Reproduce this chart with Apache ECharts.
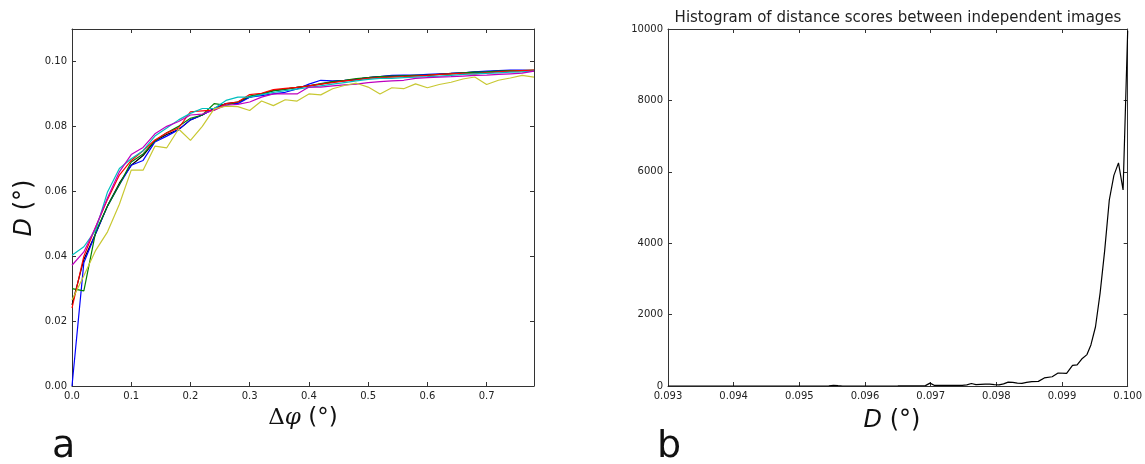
<!DOCTYPE html>
<html>
<head>
<meta charset="utf-8">
<script src="https://cdn.jsdelivr.net/npm/echarts@6/dist/echarts.min.js"></script>
<style>
  html, body { margin: 0; padding: 0; background: #fff; }
  #main { width: 1145px; height: 464px; }
</style>
</head>
<body>
<div id="main"></div>
<script>
// 左图：Δφ 与 D 的关系，七条曲线
var dphi = [0.00, 0.02, 0.04, 0.06, 0.08, 0.10, 0.12, 0.14, 0.16, 0.18,
  0.20, 0.22, 0.24, 0.26, 0.28, 0.30, 0.32, 0.34, 0.36, 0.38,
  0.40, 0.42, 0.44, 0.46, 0.48, 0.50, 0.52, 0.54, 0.56, 0.58,
  0.60, 0.62, 0.64, 0.66, 0.68, 0.70, 0.72, 0.74, 0.76, 0.78];

var dBlue = [0.000, 0.038, 0.047, 0.0555, 0.062, 0.068, 0.0695, 0.0752, 0.077, 0.079,
  0.082, 0.0835, 0.0855, 0.087, 0.087, 0.089, 0.0895, 0.090, 0.0905, 0.0915,
  0.093, 0.0942, 0.094, 0.0942, 0.0945, 0.095, 0.0953, 0.0957, 0.0958, 0.0958,
  0.096, 0.0962, 0.0963, 0.0965, 0.0968, 0.097, 0.0972, 0.0973, 0.0973, 0.0972];
var dGreen = [0.030, 0.0293, 0.0475, 0.0555, 0.062, 0.069, 0.0715, 0.0755, 0.078, 0.080,
  0.0825, 0.0835, 0.087, 0.0865, 0.0875, 0.0893, 0.090, 0.091, 0.0915, 0.092,
  0.0925, 0.0932, 0.0938, 0.0942, 0.0947, 0.095, 0.0953, 0.0955, 0.0956, 0.0957,
  0.0958, 0.096, 0.0962, 0.0965, 0.0967, 0.0968, 0.097, 0.0972, 0.0972, 0.0973];
var dRed = [0.024, 0.040, 0.049, 0.0575, 0.065, 0.0695, 0.0725, 0.0758, 0.078, 0.0795,
  0.0845, 0.0848, 0.085, 0.087, 0.0875, 0.0898, 0.0902, 0.0913, 0.0917, 0.092,
  0.0925, 0.093, 0.0935, 0.094, 0.0943, 0.0948, 0.095, 0.0952, 0.0953, 0.0955,
  0.0957, 0.096, 0.0962, 0.0963, 0.0962, 0.0965, 0.0968, 0.097, 0.0972, 0.0973];
var dCyan = [0.0403, 0.0429, 0.048, 0.0598, 0.067, 0.070, 0.0725, 0.077, 0.0795, 0.082,
  0.084, 0.0855, 0.0855, 0.088, 0.089, 0.089, 0.0898, 0.0905, 0.091, 0.0915,
  0.092, 0.0925, 0.093, 0.0935, 0.094, 0.0945, 0.0948, 0.0948, 0.095, 0.0952,
  0.0953, 0.0955, 0.0957, 0.096, 0.0962, 0.0963, 0.0965, 0.0967, 0.0968, 0.097];
var dMagenta = [0.0372, 0.0413, 0.049, 0.058, 0.066, 0.0713, 0.0735, 0.0777, 0.080, 0.0815,
  0.0835, 0.0838, 0.085, 0.0865, 0.0868, 0.0875, 0.089, 0.090, 0.090, 0.090,
  0.0921, 0.0921, 0.0925, 0.0928, 0.093, 0.0935, 0.0938, 0.094, 0.0942, 0.0948,
  0.095, 0.0952, 0.0953, 0.0955, 0.0957, 0.0958, 0.096, 0.0962, 0.0964, 0.097];
var dYellow = [0.0265, 0.034, 0.0418, 0.0475, 0.056, 0.0665, 0.0665, 0.0739, 0.0734, 0.0792,
  0.0757, 0.080, 0.0854, 0.0862, 0.0861, 0.0849, 0.0878, 0.0864, 0.0882, 0.0878,
  0.090, 0.0897, 0.0916, 0.0926, 0.0933, 0.0921, 0.090, 0.0919, 0.0916, 0.0931,
  0.0919, 0.0929, 0.0936, 0.0946, 0.0952, 0.0929, 0.0942, 0.0949, 0.0957, 0.0952];
var dBlack = [0.025, 0.039, 0.047, 0.0555, 0.0625, 0.068, 0.071, 0.0755, 0.0775, 0.079,
  0.082, 0.0835, 0.0855, 0.087, 0.0875, 0.089, 0.090, 0.091, 0.0915, 0.092,
  0.0925, 0.093, 0.0937, 0.094, 0.0945, 0.095, 0.0953, 0.0955, 0.0956, 0.0957,
  0.0958, 0.096, 0.0963, 0.0965, 0.0967, 0.0968, 0.097, 0.097, 0.0972, 0.0972];

// 右图：距离直方图
var histX = [0.09300, 0.09500, 0.09545, 0.09552, 0.09559, 0.09566, 0.09650, 0.09692, 0.09699, 0.09706,
  0.09748, 0.09755, 0.09762, 0.09769, 0.09783, 0.09790, 0.09797, 0.09804, 0.09811, 0.09818,
  0.09825, 0.09832, 0.09839, 0.09846, 0.09854, 0.09864, 0.09873, 0.09885, 0.09894, 0.09907,
  0.09916, 0.09923, 0.09930, 0.09938, 0.09944, 0.09951, 0.09958, 0.09965, 0.09972, 0.09979,
  0.09986, 0.09993, 0.10000];
var histCount = [0, 0, 5, 20, 8, 0, 5, 10, 80, 15,
  20, 30, 70, 40, 50, 55, 40, 30, 60, 110,
  100, 80, 75, 100, 120, 130, 225, 260, 364, 355,
  580, 590, 756, 880, 1150, 1660, 2600, 3800, 5210, 5900,
  6250, 5490, 9950];

var lineSets = [
  { name: 'k', color: '#000000', data: dBlack },
  { name: 'b', color: '#0000ff', data: dBlue },
  { name: 'g', color: '#008000', data: dGreen },
  { name: 'r', color: '#ff0000', data: dRed },
  { name: 'c', color: '#00bfbf', data: dCyan },
  { name: 'm', color: '#bf00bf', data: dMagenta },
  { name: 'y', color: '#c8c832', data: dYellow }
];

var FONT = 'DejaVu Sans';
var FRAME = '#333';

//坐标轴公共样式，刻度朝内，四边都有框线
function frameAxis(pos, gridIndex, min, max, interval, labelFn, showLabel) {
  return {
    type: 'value', gridIndex: gridIndex, position: pos,
    min: min, max: max, interval: interval,
    axisLine: { show: true, onZero: false, lineStyle: { color: FRAME, width: 1 } },
    axisTick: { show: true, inside: true, length: 4, lineStyle: { color: FRAME } },
    splitLine: { show: false },
    axisLabel: {
      show: showLabel, showMaxLabel: false, margin: 5,
      color: '#222', fontFamily: FONT, fontSize: 10,
      formatter: labelFn
    }
  };
}

var series = lineSets.map(function (s) {
  return {
    type: 'line', name: s.name, xAxisIndex: 0, yAxisIndex: 0,
    showSymbol: false, animation: false,
    lineStyle: { color: s.color, width: 1.2 },
    data: dphi.map(function (x, i) { return [x, s.data[i]]; })
  };
});
series.push({
  type: 'line', name: 'hist', xAxisIndex: 2, yAxisIndex: 2,
  showSymbol: false, animation: false,
  lineStyle: { color: '#000', width: 1.2 },
  data: histX.map(function (x, i) { return [x, histCount[i]]; })
});

var rightX = frameAxis('bottom', 1, 0.093, 0.100, 0.001, function (v) { return v.toFixed(3); }, true);
rightX.axisLabel.showMaxLabel = true;

var option = {
  animation: false,
  backgroundColor: '#fff',
  grid: [
    { left: 72, top: 29, width: 462, height: 357 },
    { left: 668, top: 29, width: 461, height: 357 }
  ],
  xAxis: [
    frameAxis('bottom', 0, 0, 0.78, 0.1, function (v) { return v.toFixed(1); }, true),
    frameAxis('top', 0, 0, 0.78, 0.1, null, false),
    rightX,
    frameAxis('top', 1, 0.093, 0.100, 0.001, null, false)
  ],
  yAxis: [
    frameAxis('left', 0, 0, 0.11, 0.02, function (v) { return v.toFixed(2); }, true),
    frameAxis('right', 0, 0, 0.11, 0.02, null, false),
    (function () {
      var a = frameAxis('left', 1, 0, 10000, 2000, function (v) { return String(v); }, true);
      a.axisLabel.showMaxLabel = true;
      return a;
    })(),
    frameAxis('right', 1, 0, 10000, 2000, null, false)
  ],
  series: series,
  graphic: [
    {
      type: 'text', x: 898, y: 18,
      style: {
        text: 'Histogram of distance scores between independent images',
        fontFamily: FONT, fontSize: 15, fill: '#222', align: 'center', verticalAlign: 'middle'
      }
    },
    {
      type: 'text', x: 303, y: 418,
      style: {
        text: '{d|Δ}{p|φ}{s| (°)}', align: 'center', verticalAlign: 'middle',
        rich: {
          d: { fontFamily: 'DejaVu Serif', fontSize: 23, fill: '#111' },
          p: { fontFamily: 'DejaVu Serif', fontStyle: 'italic', fontSize: 23, fill: '#111' },
          s: { fontFamily: FONT, fontSize: 23, fill: '#111' }
        }
      }
    },
    {
      type: 'text', x: 25, y: 208, rotation: Math.PI / 2,
      style: {
        text: '{i|D}{s| (°)}', align: 'center', verticalAlign: 'middle',
        rich: {
          i: { fontFamily: FONT, fontStyle: 'italic', fontSize: 24, fill: '#111' },
          s: { fontFamily: FONT, fontSize: 24, fill: '#111' }
        }
      }
    },
    {
      type: 'text', x: 892, y: 421,
      style: {
        text: '{i|D}{s| (°)}', align: 'center', verticalAlign: 'middle',
        rich: {
          i: { fontFamily: FONT, fontStyle: 'italic', fontSize: 24, fill: '#111' },
          s: { fontFamily: FONT, fontSize: 24, fill: '#111' }
        }
      }
    },
    {
      type: 'text', x: 52, y: 447,
      style: { text: 'a', fontFamily: FONT, fontSize: 38, fill: '#111', align: 'left', verticalAlign: 'middle' }
    },
    {
      type: 'text', x: 657, y: 447,
      style: { text: 'b', fontFamily: FONT, fontSize: 38, fill: '#111', align: 'left', verticalAlign: 'middle' }
    }
  ]
};

var chart = echarts.init(document.getElementById('main'));
chart.setOption(option);
</script>
</body>
</html>
